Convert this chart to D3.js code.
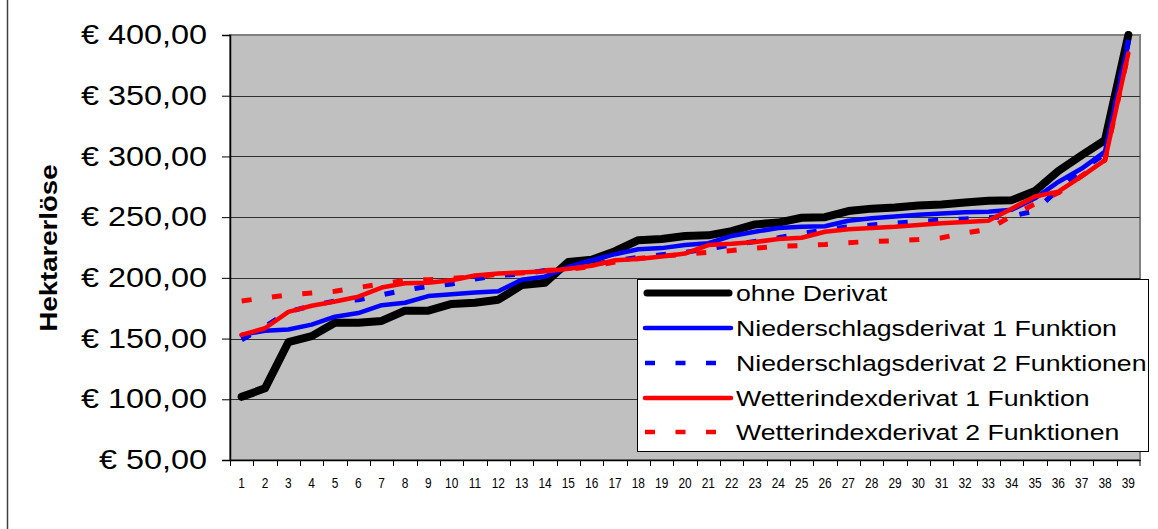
<!DOCTYPE html>
<html>
<head>
<meta charset="utf-8">
<script src="https://cdn.jsdelivr.net/npm/d3@7/dist/d3.min.js"></script>
<style>
  html, body { margin: 0; padding: 0; background: #fff; }
  svg { display: block; font-family: "Liberation Sans", Arial, sans-serif; }
</style>
</head>
<body>
<svg id="chart" width="1158" height="529"></svg>
<script>
// ---- data ----
const categories = d3.range(1, 40).map(String);
const yTicks = [50, 100, 150, 200, 250, 300, 350, 400];
const yTitle = "Hektarerlöse";
const seriesNames = [
  "ohne Derivat",
  "Niederschlagsderivat 1 Funktion",
  "Niederschlagsderivat 2 Funktionen",
  "Wetterindexderivat 1 Funktion",
  "Wetterindexderivat 2 Funktionen"
];
const ohneDerivat = [102, 109, 147, 152, 163, 163, 164.5, 173, 173, 178.5, 179.5, 182, 194, 196, 213, 215, 222, 231, 232, 234.5,
  235, 238.5, 244, 245.5, 249.5, 250, 255, 257, 258, 259.5, 260.5, 262, 263.5, 264, 271.5, 288, 301, 313.5, 400];
const nied1 = [153, 156.5, 157.5, 161.5, 168, 171, 177.5, 179.5, 185, 186.5, 188, 189, 198.5, 201, 209, 214.5, 219.5, 223.5, 224.5, 227,
  228.5, 234.5, 238, 241, 242, 242.5, 247, 249, 250.5, 252, 253, 254, 254.5, 256, 265.5, 279, 290, 304, 393];
const nied2 = [149, 160, 172, 177, 181, 182, 186, 190, 193, 195, 199, 202, 203, 206, 208, 211, 214, 217, 219, 221,
  224, 227, 230, 233, 236.5, 239.5, 242, 243.5, 245, 246.5, 247.5, 248.5, 249.5, 251, 255, 273, 289, 302, 396];
const wetter1 = [153, 158.5, 172, 177, 180.5, 184.5, 192, 195.5, 196, 198, 202, 203.5, 204.5, 205.5, 207.5, 210, 214.5, 215.5, 217.5, 220,
  227, 228, 229.5, 232, 233, 238, 240, 241, 242, 243.5, 245, 246, 247, 257, 267, 271, 283.5, 297, 385];
const wetter2 = [181, 183.5, 186, 187.5, 189, 192, 195, 198, 198.5, 199.5, 201, 203, 204, 206, 207, 209.5, 213, 216, 218, 219.5,
  221, 222.5, 224.5, 226, 226.5, 227.5, 229, 230, 230.5, 231.5, 233, 237, 240, 251, 261, 270, 284, 297, 385];

// ---- styles ----
const seriesData = [ohneDerivat, nied1, nied2, wetter1, wetter2];
const styles = [
  { color: "#000000", width: 8, dash: null },
  { color: "#0000FF", width: 4.5, dash: null },
  { color: "#0000FF", width: 5, dash: "10,20.5" },
  { color: "#FF0000", width: 4.5, dash: null },
  { color: "#FF0000", width: 5, dash: "10,20.5" }
];

const svg = d3.select("#chart");
const W = 1158, H = 529;
const plot = { left: 230, right: 1140, top: 35, bottom: 460 };

// outer frame (left edge visible)
svg.append("line").attr("x1", 7.5).attr("x2", 7.5).attr("y1", 0).attr("y2", H)
  .attr("stroke", "#404040").attr("stroke-width", 1.5);

const x = d3.scaleBand().domain(categories).range([plot.left, plot.right]).paddingInner(0).paddingOuter(0);
const y = d3.scaleLinear().domain([50, 400]).range([plot.bottom, plot.top]);

// plot background
svg.append("rect").attr("x", plot.left).attr("y", plot.top)
  .attr("width", plot.right - plot.left).attr("height", plot.bottom - plot.top)
  .attr("fill", "#C0C0C0").attr("stroke", "#808080").attr("stroke-width", 2);

// gridlines
svg.append("g").selectAll("line").data(yTicks.filter(v => v > 50 && v < 400)).join("line")
  .attr("x1", plot.left).attr("x2", plot.right)
  .attr("y1", d => Math.round(y(d)) + 0.5).attr("y2", d => Math.round(y(d)) + 0.5)
  .attr("stroke", "#303030").attr("stroke-width", 1);

// y axis
const yAxis = svg.append("g").attr("transform", `translate(${plot.left},0)`)
  .call(d3.axisLeft(y).tickValues(yTicks).tickSize(8).tickPadding(15)
    .tickFormat(d => "€ " + d3.format(".2f")(d).replace(".", ",")));
yAxis.select(".domain").attr("stroke", "#000").attr("stroke-width", 1.5);
yAxis.selectAll(".tick line").attr("stroke", "#000");
yAxis.selectAll(".tick text").attr("font-size", 27).attr("fill", "#000")
  .attr("font-family", "Liberation Sans, Arial, sans-serif")
  .each(function() { const l = this.getComputedTextLength(); d3.select(this).attr("textLength", l * 1.2).attr("lengthAdjust", "spacingAndGlyphs"); });

// x axis
const xAxis = svg.append("g").attr("transform", `translate(0,${plot.bottom})`)
  .call(d3.axisBottom(x).tickSize(0).tickPadding(18));
xAxis.select(".domain").attr("stroke", "#000").attr("stroke-width", 1.5);
xAxis.selectAll(".tick text").attr("font-size", 14.5).attr("fill", "#000")
  .attr("font-family", "Liberation Sans, Arial, sans-serif")
  .each(function() { const l = this.getComputedTextLength(); d3.select(this).attr("textLength", l * 0.82).attr("lengthAdjust", "spacingAndGlyphs"); });
// boundary ticks between categories
svg.append("g").selectAll("line").data(categories.concat(["end"])).join("line")
  .attr("x1", (d, i) => i < categories.length ? Math.round(x(d)) + 0.5 : plot.right)
  .attr("x2", (d, i) => i < categories.length ? Math.round(x(d)) + 0.5 : plot.right)
  .attr("y1", plot.bottom).attr("y2", plot.bottom + 6)
  .attr("stroke", "#000").attr("stroke-width", 1);

// y title
svg.append("text").attr("transform", `translate(57,${248}) rotate(-90)`)
  .attr("text-anchor", "middle").attr("font-size", 23).attr("font-weight", "bold")
  .attr("textLength", 167).attr("lengthAdjust", "spacingAndGlyphs")
  .text(yTitle);

// lines
const clip = svg.append("clipPath").attr("id", "clip").append("rect")
  .attr("x", plot.left).attr("y", plot.top - 4).attr("width", plot.right - plot.left).attr("height", plot.bottom - plot.top + 4);
const line = d3.line().x((d, i) => x(categories[i]) + x.bandwidth() / 2).y(d => y(d));
const lg = svg.append("g").attr("clip-path", "url(#clip)");
seriesData.forEach((data, k) => {
  lg.append("path").datum(data).attr("d", line)
    .attr("fill", "none").attr("stroke", styles[k].color).attr("stroke-width", styles[k].width)
    .attr("stroke-linejoin", "round").attr("stroke-linecap", styles[k].dash ? "butt" : "round")
    .attr("stroke-dasharray", styles[k].dash);
});

// legend
const legend = svg.append("g");
legend.append("rect").attr("x", 637.5).attr("y", 279.5).attr("width", 511).attr("height", 172)
  .attr("fill", "#fff").attr("stroke", "#000").attr("stroke-width", 1);
const rowY = [293, 328, 363, 398, 432];
seriesNames.forEach((name, k) => {
  const g = legend.append("g");
  g.append("line").attr("x1", k === 0 ? 647 : 645).attr("x2", k === 0 ? 729 : 731)
    .attr("y1", rowY[k]).attr("y2", rowY[k])
    .attr("stroke", styles[k].color).attr("stroke-width", k === 0 ? 7 : 4.5)
    .attr("stroke-linecap", styles[k].dash ? "butt" : "round")
    .attr("stroke-dasharray", styles[k].dash);
  g.append("text").attr("x", 736).attr("y", rowY[k] + 7.5).attr("font-size", 21.5).attr("fill", "#000")
    .text(name)
    .each(function() { const l = this.getComputedTextLength(); d3.select(this).attr("textLength", l * 1.24).attr("lengthAdjust", "spacingAndGlyphs"); });
});
</script>
</body>
</html>
